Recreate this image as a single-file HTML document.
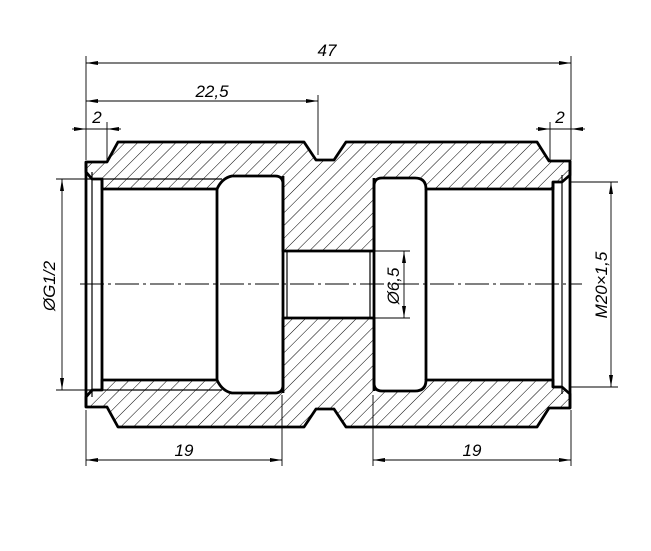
<!DOCTYPE html>
<html><head><meta charset="utf-8"><style>
html,body{margin:0;padding:0;background:#fff;}
svg{display:block;}
text{font-family:"Liberation Sans",sans-serif;font-style:italic;font-size:17px;fill:#000;}
</style></head><body>
<svg width="651" height="551" viewBox="0 0 651 551" xmlns="http://www.w3.org/2000/svg">
<defs>
<pattern id="h" width="9" height="9" patternUnits="userSpaceOnUse" patternTransform="rotate(45)">
<line x1="0" y1="0" x2="0" y2="9" stroke="#000" stroke-width="1"/>
</pattern>
<marker id="a" viewBox="0 0 12 6" refX="12" refY="3" markerWidth="12" markerHeight="6" orient="auto-start-reverse" markerUnits="userSpaceOnUse">
<path d="M0,1 L12,3 L0,5 Z" fill="#000"/>
</marker>
<path id="half" d="M86,162 L107,162 L118,142 L304,142 L316,160 L334,160 L346,142 L537,142 L549,161 L570,161 L570,175 L562,182 L553,182 L553,189 L426,189 Q426,178 415,178 L382,178 Q374,178 374,186 L374,251 L283,251 L283,184 Q283,176 275,176 L232,176 Q222,178 217,189 L102,189 L102,179 L92,179 L86,172 Z"/>
<clipPath id="c">
<use href="#half"/>
<use href="#half" transform="matrix(1,0,0,-1,0,569)"/>
</clipPath>
</defs>
<rect x="0" y="0" width="651" height="551" fill="url(#h)" clip-path="url(#c)"/>
<g fill="none" stroke="#000" stroke-width="2.8" stroke-linejoin="round">
<use href="#half"/>
<use href="#half" transform="matrix(1,0,0,-1,0,569)"/>
</g>
<g stroke="#000" stroke-width="2.8" fill="none">
<line x1="86" y1="162" x2="86" y2="407"/>
<line x1="570" y1="161" x2="570" y2="408"/>
<line x1="102" y1="179" x2="102" y2="390"/>
<line x1="553" y1="182" x2="553" y2="387"/>
<line x1="217" y1="189" x2="217" y2="380"/>
<line x1="426" y1="189" x2="426" y2="380"/>
<line x1="283" y1="176" x2="283" y2="393"/>
<line x1="374" y1="178" x2="374" y2="391"/>
</g>
<g stroke="#000" stroke-width="1.2" fill="none">
<line x1="92" y1="172" x2="92" y2="397"/>
<line x1="562" y1="175" x2="562" y2="394"/>
<line x1="287" y1="251" x2="287" y2="318"/>
<line x1="370" y1="251" x2="370" y2="318"/>
<line x1="86" y1="179" x2="222" y2="179"/>
<line x1="86" y1="390" x2="222" y2="390"/>
</g>
<line x1="80" y1="284" x2="582" y2="284" stroke="#000" stroke-width="0.9" stroke-dasharray="24,4,3,4"/>
<g stroke="#000" stroke-width="0.9" fill="none">
<line x1="86" y1="56" x2="86" y2="160"/>
<line x1="571" y1="56" x2="571" y2="160"/>
<line x1="318" y1="95" x2="318" y2="155"/>
<line x1="107" y1="122" x2="107" y2="160"/>
<line x1="550" y1="122" x2="550" y2="160"/>
<line x1="86" y1="63" x2="571" y2="63" marker-start="url(#a)" marker-end="url(#a)"/>
<line x1="86" y1="101" x2="318" y2="101" marker-start="url(#a)" marker-end="url(#a)"/>
<line x1="72" y1="129" x2="86" y2="129" marker-end="url(#a)"/>
<line x1="121" y1="129" x2="107" y2="129" marker-end="url(#a)"/>
<line x1="86" y1="129" x2="107" y2="129"/>
<line x1="536" y1="129" x2="550" y2="129" marker-end="url(#a)"/>
<line x1="585" y1="129" x2="571" y2="129" marker-end="url(#a)"/>
<line x1="550" y1="129" x2="571" y2="129"/>
<line x1="86" y1="410" x2="86" y2="466"/>
<line x1="282" y1="395" x2="282" y2="466"/>
<line x1="373" y1="395" x2="373" y2="466"/>
<line x1="571" y1="410" x2="571" y2="466"/>
<line x1="86" y1="460" x2="282" y2="460" marker-start="url(#a)" marker-end="url(#a)"/>
<line x1="373" y1="460" x2="571" y2="460" marker-start="url(#a)" marker-end="url(#a)"/>
<line x1="56" y1="179" x2="86" y2="179"/>
<line x1="56" y1="390" x2="86" y2="390"/>
<line x1="62" y1="179" x2="62" y2="390" marker-start="url(#a)" marker-end="url(#a)"/>
<line x1="570" y1="182" x2="618" y2="182"/>
<line x1="570" y1="387" x2="618" y2="387"/>
<line x1="611" y1="182" x2="611" y2="387" marker-start="url(#a)" marker-end="url(#a)"/>
<line x1="372" y1="251" x2="410" y2="251"/>
<line x1="372" y1="318" x2="410" y2="318"/>
<line x1="404" y1="251" x2="404" y2="318" marker-start="url(#a)" marker-end="url(#a)"/>
</g>
<text x="327" y="56" text-anchor="middle">47</text>
<text x="212" y="97" text-anchor="middle">22,5</text>
<text x="97" y="123" text-anchor="middle">2</text>
<text x="560" y="123" text-anchor="middle">2</text>
<text x="184" y="456" text-anchor="middle">19</text>
<text x="472" y="456" text-anchor="middle">19</text>
<text transform="translate(55,286) rotate(-90)" text-anchor="middle">ØG1/2</text>
<text transform="translate(607,285) rotate(-90)" text-anchor="middle">M20×1,5</text>
<text transform="translate(399,286) rotate(-90)" text-anchor="middle">Ø6,5</text>
</svg>
</body></html>
